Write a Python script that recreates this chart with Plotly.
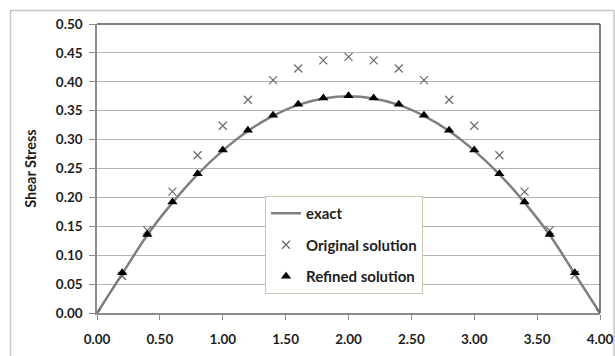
import plotly.graph_objects as go

x_exact = [0.0, 0.2, 0.4, 0.6, 0.8, 1.0, 1.2, 1.4, 1.6, 1.8, 2.0,
           2.2, 2.4, 2.6, 2.8, 3.0, 3.2, 3.4, 3.6, 3.8, 4.0]
y_exact = [0.0, 0.0675, 0.135, 0.191, 0.240, 0.281, 0.315, 0.341, 0.360, 0.371, 0.375,
           0.371, 0.360, 0.341, 0.315, 0.281, 0.240, 0.191, 0.135, 0.0675, 0.0]

x_orig = [0.0, 0.2, 0.4, 0.6, 0.8, 1.0, 1.2, 1.4, 1.6, 1.8, 2.0,
          2.2, 2.4, 2.6, 2.8, 3.0, 3.2, 3.4, 3.6, 3.8, 4.0]
y_orig = [0.0, 0.064, 0.143, 0.210, 0.273, 0.324, 0.369, 0.403, 0.423, 0.437, 0.443,
          0.437, 0.423, 0.403, 0.369, 0.324, 0.273, 0.210, 0.143, 0.066, 0.0]

x_ref = [0.2, 0.4, 0.6, 0.8, 1.0, 1.2, 1.4, 1.6, 1.8, 2.0,
         2.2, 2.4, 2.6, 2.8, 3.0, 3.2, 3.4, 3.6, 3.8]
y_ref = [0.0695, 0.136, 0.192, 0.241, 0.282, 0.316, 0.342, 0.361, 0.372, 0.376,
         0.372, 0.361, 0.342, 0.316, 0.282, 0.241, 0.192, 0.136, 0.0695]

y_ticks = [0.0, 0.05, 0.10, 0.15, 0.20, 0.25, 0.30, 0.35, 0.40, 0.45, 0.50]
x_ticks = [0.0, 0.5, 1.0, 1.5, 2.0, 2.5, 3.0, 3.5, 4.0]

font_family = "Lato, 'Open Sans', sans-serif"

fig = go.Figure()
fig.add_trace(go.Scatter(x=x_exact, y=y_exact, mode="lines", name="exact",
                         line=dict(color="#7f7f7f", width=2.5, shape="spline"),
                         legendgroup="a"))
fig.add_trace(go.Scatter(x=x_orig, y=y_orig, mode="markers", name="Original solution",
                         marker=dict(symbol="x-thin", size=8, line=dict(color="#6a6a6a", width=1.2)),
                         legendgroup="b"))
fig.add_trace(go.Scatter(x=x_ref, y=y_ref, mode="markers", name="Refined solution",
                         marker=dict(symbol="triangle-up", size=9, color="black"),
                         legendgroup="c"))

L, R, T, B = 97, 15, 24, 43
W, H = 615, 356
pw, ph = W - L - R, H - T - B

def px(xp):
    return (xp - L) / pw

def py(yp):
    return (H - B - yp) / ph

fig.update_layout(
    width=W, height=H,
    margin=dict(l=L, r=R, t=T, b=B, autoexpand=False),
    paper_bgcolor="white", plot_bgcolor="white",
    font=dict(family=font_family, size=13, color="#1e1e1e"),
    showlegend=True,
    legend=dict(x=px(265), y=py(196), xanchor="left", yanchor="top",
                bgcolor="white", bordercolor="#c9c9b4", borderwidth=1,
                font=dict(size=15, family=font_family, weight="bold", color="#1e1e1e"),
                tracegroupgap=9, itemwidth=30),
    shapes=[
        dict(type="rect", xref="paper", yref="paper",
             x0=px(10.5), x1=px(614), y0=py(10.5), y1=py(370),
             line=dict(color="#c8c8c8", width=1.5), layer="below"),
        dict(type="line", xref="paper", yref="paper", x0=0, x1=1, y0=1, y1=1,
             line=dict(color="#555555", width=1.5)),
        dict(type="line", xref="paper", yref="paper", x0=1, x1=1, y0=0, y1=1,
             line=dict(color="#555555", width=1.5)),
    ],
)

fig.update_xaxes(range=[0, 4], tickvals=x_ticks, tickformat=".2f", automargin=False,
                 showgrid=False, zeroline=False,
                 showline=True, linecolor="#8c8c8c", linewidth=1.5,
                 ticks="outside", ticklen=5, tickcolor="#8c8c8c",
                 ticklabelstandoff=8,
                 tickfont=dict(size=13.5, family=font_family, weight="bold", color="#1e1e1e"))
fig.update_yaxes(range=[0, 0.5], tickvals=y_ticks, tickformat=".2f", automargin=False,
                 showgrid=True, gridcolor="#b4b4b4", gridwidth=1.2, zeroline=False,
                 showline=True, linecolor="#8c8c8c", linewidth=1.5,
                 ticks="outside", ticklen=6, tickcolor="#8c8c8c",
                 ticklabelstandoff=4,
                 tickfont=dict(size=13.5, family=font_family, weight="bold", color="#1e1e1e"),
                 title=dict(text="Shear Stress", standoff=16,
                            font=dict(size=14.5, family=font_family, weight="bold", color="#1e1e1e")))

fig.write_html("out.html")
